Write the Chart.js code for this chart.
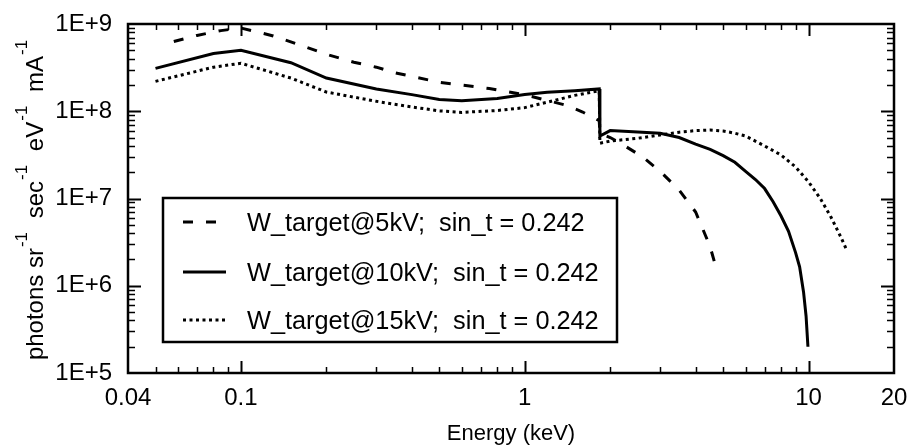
<!DOCTYPE html>
<html>
<head>
<meta charset="utf-8">
<script src="https://cdn.jsdelivr.net/npm/chart.js@4.4.1/dist/chart.umd.min.js"></script>
<style>
  html, body { margin: 0; padding: 0; background: #fff; }
  #wrap { width: 911px; height: 447px; position: relative; }
</style>
</head>
<body>
<div id="wrap"><canvas id="spectrum"></canvas></div>
<script>
// W target spectra (energy in keV, photons sr-1 sec-1 eV-1 mA-1)
var energy5 = [0.058, 0.07, 0.085, 0.1, 0.13, 0.16, 0.2, 0.25, 0.3, 0.35, 0.5, 0.75, 1.0, 1.2, 1.4, 1.6, 1.83,
               1.84, 2.0, 2.2, 2.6, 3.0, 3.5, 4.0, 4.3, 4.5, 4.7];
var flux5 = [6.3e8, 7.4e8, 8.4e8, 9.0e8, 7.3e8, 5.8e8, 4.5e8, 3.65e8, 3.2e8, 2.75e8, 2.15e8, 1.82e8, 1.55e8, 1.33e8, 1.17e8, 9.8e7, 7.8e7,
             5.6e7, 5.0e7, 4.2e7, 3.0e7, 2.05e7, 1.25e7, 7.0e6, 4.0e6, 2.8e6, 1.7e6];

var energy10 = [0.05, 0.08, 0.1, 0.15, 0.2, 0.3, 0.4, 0.5, 0.6, 0.8, 1.0, 1.2, 1.5, 1.83,
                1.84, 2.0, 2.5, 3.0, 3.5, 4.0, 4.5, 5.0, 5.5, 6.0, 6.5, 7.0, 7.5, 8.0, 8.5, 9.0, 9.3, 9.6, 9.8, 9.95];
var flux10 = [3.1e8, 4.6e8, 5.0e8, 3.6e8, 2.4e8, 1.8e8, 1.55e8, 1.36e8, 1.32e8, 1.4e8, 1.56e8, 1.65e8, 1.72e8, 1.8e8,
              5.2e7, 6.0e7, 5.8e7, 5.6e7, 5.0e7, 4.2e7, 3.65e7, 3.1e7, 2.6e7, 2.05e7, 1.65e7, 1.3e7, 9.2e6, 6.3e6, 4.2e6, 2.4e6, 1.65e6, 8.5e5, 4.5e5, 2.0e5];

var energy15 = [0.05, 0.08, 0.1, 0.15, 0.2, 0.3, 0.4, 0.5, 0.6, 0.8, 1.0, 1.2, 1.5, 1.83,
                1.84, 2.0, 2.5, 3.0, 3.5, 4.0, 4.5, 5.0, 5.5, 6.0, 7.0, 8.0, 9.0, 10.0, 11.0, 12.0, 13.0, 13.6];
var flux15 = [2.2e8, 3.2e8, 3.55e8, 2.4e8, 1.66e8, 1.3e8, 1.12e8, 1.01e8, 9.7e7, 1.02e8, 1.1e8, 1.27e8, 1.52e8, 1.72e8,
              4.3e7, 4.55e7, 4.9e7, 5.35e7, 5.75e7, 6.0e7, 6.1e7, 5.95e7, 5.6e7, 5.2e7, 4.0e7, 3.15e7, 2.3e7, 1.55e7, 1.0e7, 6.1e6, 3.6e6, 2.6e6];

var seriesLabels = ["W_target@5kV;  sin_t = 0.242", "W_target@10kV;  sin_t = 0.242", "W_target@15kV;  sin_t = 0.242"];
var xTickValues = [0.04, 0.1, 1, 10, 20];
var xTickLabels = ["0.04", "0.1", "1", "10", "20"];
var yTickValues = [1e5, 1e6, 1e7, 1e8, 1e9];
var yTickLabels = ["1E+5", "1E+6", "1E+7", "1E+8", "1E+9"];
var xTitle = "Energy (keV)";
var yTitleParts = [["photons sr", "-1"], [" sec", "-1"], [" eV", "-1"], [" mA", "-1"]];

var FONT = "'Liberation Sans', Arial, Helvetica, sans-serif";

function toPoints(xs, ys) {
  return xs.map(function (x, i) { return { x: x, y: ys[i] }; });
}

// minor tick positions, 2..9 inside each decade
function minorTicks(lo, hi) {
  var out = [];
  for (var d = -2; d <= 9; d++) {
    for (var m = 2; m <= 9; m++) {
      var v = m * Math.pow(10, d);
      if (v > lo * 1.0001 && v < hi * 0.9999) out.push(v);
    }
  }
  return out;
}
var xMinor = minorTicks(0.04, 10);
var yMinor = minorTicks(1e5, 1e9);
var xMajor = [0.1, 1, 10];
var yMajor = [1e6, 1e7, 1e8];

var decor = {
  id: 'decor',
  afterDatasetsDraw: function (chart) {
    var ctx = chart.ctx, a = chart.chartArea;
    var xs = chart.scales.x, ys = chart.scales.y;
    ctx.save();
    ctx.strokeStyle = '#000';
    ctx.fillStyle = '#000';

    // inward ticks on all four sides
    function tickSet(vals, len, w) {
      ctx.lineWidth = w;
      ctx.beginPath();
      vals.forEach(function (v) {
        var px = Math.round(xs.getPixelForValue(v)) + 0.5;
        ctx.moveTo(px, a.bottom); ctx.lineTo(px, a.bottom - len);
        ctx.moveTo(px, a.top); ctx.lineTo(px, a.top + len);
      });
      ctx.stroke();
    }
    function tickSetY(vals, len, w) {
      ctx.lineWidth = w;
      ctx.beginPath();
      vals.forEach(function (v) {
        var py = Math.round(ys.getPixelForValue(v)) + 0.5;
        ctx.moveTo(a.left, py); ctx.lineTo(a.left + len, py);
        ctx.moveTo(a.right, py); ctx.lineTo(a.right - len, py);
      });
      ctx.stroke();
    }
    tickSet(xMinor, 6, 1.5);
    tickSet(xMajor, 12, 2);
    tickSetY(yMinor, 7, 1.5);
    tickSetY(yMajor, 13, 2);

    // frame
    ctx.lineWidth = 2.5;
    ctx.strokeRect(a.left, a.top, a.right - a.left, a.bottom - a.top);

    // legend box
    var box = { left: 163, top: 198, right: 617, bottom: 342 };
    ctx.fillStyle = '#fff';
    ctx.fillRect(box.left, box.top, box.right - box.left, box.bottom - box.top);
    ctx.lineWidth = 2.5;
    ctx.strokeRect(box.left, box.top, box.right - box.left, box.bottom - box.top);
    var rowY = [222, 272, 320];
    ctx.font = '25.3px ' + FONT;
    ctx.textBaseline = 'alphabetic';
    ctx.textAlign = 'left';
    chart.data.datasets.forEach(function (ds, i) {
      var y = rowY[i];
      ctx.lineWidth = ds.borderWidth;
      ctx.setLineDash(ds.borderDash || []);
      ctx.beginPath();
      ctx.moveTo(183, y); ctx.lineTo(226, y);
      ctx.stroke();
      ctx.setLineDash([]);
      ctx.fillStyle = '#000';
      ctx.fillText(ds.label, 247, y + 8.8);
    });

    // y axis title with raised superscripts
    var big = '24px ' + FONT, small = '17px ' + FONT;
    var pre = 1, post = 7;
    var total = 0;
    yTitleParts.forEach(function (p) {
      ctx.font = big; total += ctx.measureText(p[0]).width + pre;
      ctx.font = small; total += ctx.measureText(p[1]).width + post;
    });
    ctx.translate(43, (a.top + a.bottom) / 2 - 2);
    ctx.rotate(-Math.PI / 2);
    var x = -total / 2;
    yTitleParts.forEach(function (p) {
      ctx.font = big; ctx.fillText(p[0], x, 0); x += ctx.measureText(p[0]).width + pre;
      ctx.font = small; ctx.fillText(p[1], x, -16); x += ctx.measureText(p[1]).width + post;
    });
    ctx.restore();
  }
};

var ctx = document.getElementById('spectrum').getContext('2d');
var spectrum = new Chart(ctx, {
  type: 'line',
  data: {
    datasets: [{
      label: seriesLabels[0],
      data: toPoints(energy5, flux5),
      borderColor: '#000', borderWidth: 3, borderDash: [10, 13],
      pointRadius: 0, tension: 0, fill: false
    }, {
      label: seriesLabels[1],
      data: toPoints(energy10, flux10),
      borderColor: '#000', borderWidth: 3,
      pointRadius: 0, tension: 0, fill: false
    }, {
      label: seriesLabels[2],
      data: toPoints(energy15, flux15),
      borderColor: '#000', borderWidth: 3, borderDash: [3, 3.5],
      pointRadius: 0, tension: 0, fill: false
    }]
  },
  options: {
    responsive: true,
    maintainAspectRatio: false,
    animation: false,
    layout: { padding: { top: 24, right: 17, left: 0, bottom: 0 } },
    plugins: { legend: { display: false }, tooltip: { enabled: false } },
    scales: {
      x: {
        type: 'logarithmic', min: 0.04, max: 20,
        grid: { display: false, tickLength: 9 }, border: { display: false },
        afterBuildTicks: function (scale) {
          scale.ticks = xTickValues.map(function (v) { return { value: v }; });
        },
        afterFit: function (scale) { scale.height = 74; },
        ticks: {
          autoSkip: false, maxRotation: 0, padding: 2, color: '#000',
          font: { family: FONT, size: 24 },
          callback: function (v, i) { return xTickLabels[i]; }
        },
        title: {
          display: true, text: xTitle, color: '#000',
          font: { family: FONT, size: 22 }, padding: { top: 0, bottom: 0 }
        }
      },
      y: {
        type: 'logarithmic', min: 1e5, max: 1e9,
        grid: { display: false }, border: { display: false },
        afterBuildTicks: function (scale) {
          scale.ticks = yTickValues.map(function (v) { return { value: v }; });
        },
        afterFit: function (scale) { scale.width = 128; },
        ticks: {
          autoSkip: false, padding: 8, color: '#000',
          font: { family: FONT, size: 24 },
          callback: function (v, i) { return yTickLabels[i]; }
        }
      }
    }
  },
  plugins: [decor]
});
</script>
</body>
</html>
